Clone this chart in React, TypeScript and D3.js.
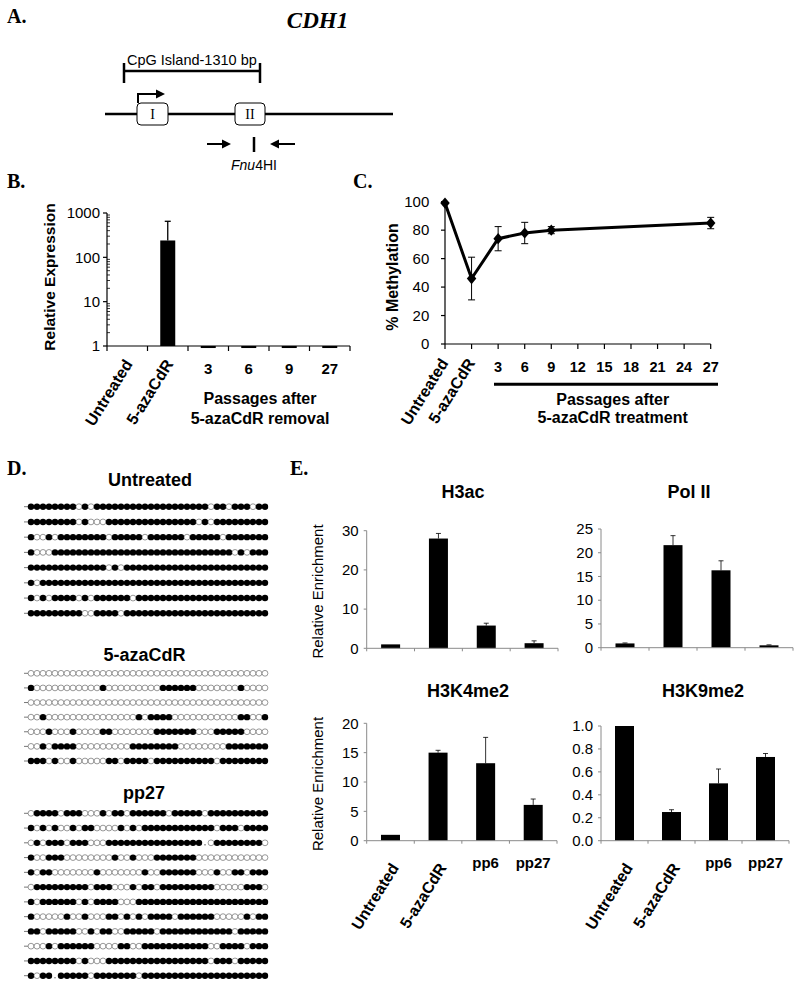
import * as d3 from "d3";

// ---- panel B: relative expression (log scale) ----
const bCategories = ["Untreated", "5-azaCdR", "3", "6", "9", "27"];
const bValues = [1, 240, 0.9, 0.9, 0.9, 0.9];
const bErrorTop = [0, 650, 0, 0, 0, 0];
const bTicks = [1, 10, 100, 1000];

// ---- panel C: % methylation ----
const cCategories = ["Untreated", "5-azaCdR", "3", "6", "9", "12", "15", "18", "21", "24", "27"];
const cPointCats = ["Untreated", "5-azaCdR", "3", "6", "9", "27"];
const cValues = [99, 46, 74, 78, 80, 85];
const cErrors = [0, 15, 8.5, 7.5, 2.5, 4];
const cTicks = [0, 20, 40, 60, 80, 100];

// ---- panel E: ChIP enrichment ----
const eCategories = ["Untreated", "5-azaCdR", "pp6", "pp27"];
const h3acValues = [1, 28, 5.8, 1.3];
const h3acErrors = [0, 1.3, 0.6, 0.6];
const h3acTicks = [0, 10, 20, 30];
const pol2Values = [0.9, 21.6, 16.3, 0.5];
const pol2Errors = [0.1, 2, 2, 0.1];
const pol2Ticks = [0, 5, 10, 15, 20, 25];
const h3k4Values = [1, 15, 13.2, 6.1];
const h3k4Errors = [0, 0.4, 4.4, 1.0];
const h3k4Ticks = [0, 5, 10, 15, 20];
const h3k9Values = [1.0, 0.25, 0.5, 0.73];
const h3k9Errors = [0, 0.02, 0.125, 0.03];
const h3k9Ticks = [0, 0.2, 0.4, 0.6, 0.8, 1.0];

// ---- panel D: bisulfite sequencing, 1 = methylated, 0 = unmethylated, - = no data ----
const untreatedRows = [
  "11111111 0 1 0 1111111111111111111 0 11 0 111 0 11",
  "11111111 0 1 000 111111111111111 0 1 0 111111111",
  "1 00 1 0 11111111 0 11111 0 111111 0 11111 0 1111111",
  "1 000 111111111111111111111111111111 0 1 0 111",
  "1111111111111 0 1 0 111111111111111111111111",
  "1 0 11111111111111111111111111111111111111",
  "1 0 1 0 1111 0 1 0 111111 0 1111111111111111111111",
  "111111111 00 1111 0 111111111111111111111111",
];
const azaRows = [
  "0000000000000000000000000000000000000000",
  "1 00000000000 1 000000000 111111 0000000 1 0000",
  "0000000000000000000000000000000000000000",
  "00 1 000000000000000 1 0 1111 00000000000 11 00 1",
  "000 1 000 1 0000 11 0000000 1111111 000 11111 0000",
  "00 1 0 1111 000000000 11111111 00000000 1111111",
  "111 0 1 00 1 00000 11 0 1111 0 1111111111 0 11111111",
];
const pp27Rows = [
  "0 1111 0 111 000 1 0 11 0 111111 0 11111 0 1111111111",
  "1 0 1 0 1 00 1 0 11 0000 1 0 1 0 111111111111 0 111 0 1111",
  "0 1 0 111 0 111 000 1111111111111111 - 0 11111111 0",
  "1 00 111 00000000 1 00 1 000 1111111 000000000000",
  "1 0 11 0000000 1 0000000 1 00 111111 000 1 00 11 0 111",
  "0 111111111 0 111 000 1 0 11 0 111111111 00000 111 0",
  "1 0 111111 0 1 0 1111 000 1111111111111111111111",
  "1 00000 1 00 1 000 11 0 1 0 1 0 1111 0 111111 00000 1 0 11",
  "11 0 11111 00 1 0 11 00 11111 0 111111111111 0 11111",
  "000 1 0 111111 0000 11 00 11111111111 00 1111 0 111",
  "11111111 0 1 000 11111111111111111 0 111 0 11111",
  "1 0 11 - 11111 0 1111111 0 111111111111111111111",
];

const SANS = "Arial, 'Liberation Sans', sans-serif";
const SERIF = "'Times New Roman', 'Liberation Serif', serif";

const PanelLetter = ({ x, y, t }: { x: number; y: number; t: string }) => (
  <text x={x} y={y} fontFamily={SERIF} fontWeight="bold" fontSize={20}>{t}</text>
);

const RotLabel = ({ x, y, t }: { x: number; y: number; t: string }) => (
  <text transform={`translate(${x},${y}) rotate(-58)`} textAnchor="end" fontWeight="bold" fontSize={16}>{t}</text>
);

const PanelA = () => (
  <g>
    <PanelLetter x={7} y={22.5} t="A." />
    <text x={317.5} y={28.3} textAnchor="middle" fontFamily={SERIF} fontWeight="bold" fontStyle="italic" fontSize={23}>CDH1</text>
    <text x={127} y={65} fontSize={14.5}>CpG Island-1310 bp</text>
    <g stroke="#000" strokeWidth={2.5}>
      <line x1={124} x2={260} y1={71} y2={71} />
      <line x1={124} x2={124} y1={63} y2={83} />
      <line x1={260} x2={260} y1={63} y2={83} />
      <line x1={105} x2={393} y1={114} y2={114} />
      <path d="M138,103 V94 H158" fill="none" strokeWidth={2} />
      <line x1={207} x2={224} y1={144} y2={144} strokeWidth={2} />
      <line x1={276} x2={295} y1={144} y2={144} strokeWidth={2} />
      <line x1={254} x2={254} y1={137} y2={152} />
    </g>
    <polygon points="156,89.5 165,94 156,98.5" fill="#000" />
    <polygon points="222,139.5 231,144 222,148.5" fill="#000" />
    <polygon points="279,139.5 270,144 279,148.5" fill="#000" />
    <rect x={137} y={103} width={31} height={22} rx={4} fill="#fff" stroke="#000" strokeWidth={1} />
    <rect x={235} y={103} width={30} height={22} rx={4} fill="#fff" stroke="#000" strokeWidth={1} />
    <text x={152.5} y={118.5} textAnchor="middle" fontFamily={SERIF} fontSize={14}>I</text>
    <text x={250} y={118.5} textAnchor="middle" fontFamily={SERIF} fontSize={14}>II</text>
    <text x={254} y={170} textAnchor="middle" fontSize={14}>
      <tspan fontStyle="italic">Fnu</tspan>4HI
    </text>
  </g>
);

const PanelB = () => {
  const x = d3.scaleBand().domain(bCategories).range([107, 350]);
  const y = d3.scaleLog().domain([1, 1000]).range([346, 213]);
  const bw = 15;
  const minors: number[] = [];
  [1, 10, 100].forEach(d => d3.range(2, 10).forEach(k => minors.push(d * k)));
  return (
    <g>
      <PanelLetter x={7} y={188.3} t="B." />
      {bCategories.map((c, i) => {
        const v = bValues[i];
        const y0 = y(1), y1 = y(v);
        return (
          <rect key={c} x={x(c)! + (x.bandwidth() - bw) / 2} y={Math.min(y0, y1)} width={bw}
            height={Math.abs(y1 - y0)} fill="#000" />
        );
      })}
      {bCategories.map((c, i) => bErrorTop[i] > 0 && (
        <g key={c} stroke="#000" strokeWidth={1.3}>
          <line x1={x(c)! + x.bandwidth() / 2} x2={x(c)! + x.bandwidth() / 2} y1={y(bValues[i])} y2={y(bErrorTop[i])} />
          <line x1={x(c)! + x.bandwidth() / 2 - 3} x2={x(c)! + x.bandwidth() / 2 + 3} y1={y(bErrorTop[i])} y2={y(bErrorTop[i])} />
        </g>
      ))}
      <g stroke="#000" strokeWidth={1.2}>
        <line x1={107} x2={107} y1={213} y2={346} />
        <line x1={107} x2={350} y1={346} y2={346} />
        {bTicks.map(t => <line key={t} x1={103} x2={107} y1={y(t)} y2={y(t)} />)}
        {minors.map(t => <line key={t} x1={107} x2={110} y1={y(t)} y2={y(t)} strokeWidth={0.8} />)}
        {[...bCategories.map(c => x(c)!), 350].map((p, i) => <line key={i} x1={p} x2={p} y1={346} y2={351} />)}
      </g>
      {bTicks.map(t => (
        <text key={t} x={100} y={y(t)} dy="0.35em" textAnchor="end" fontSize={15}>{t}</text>
      ))}
      <text transform="translate(55,277) rotate(-90)" textAnchor="middle" fontWeight="bold" fontSize={15.5}>Relative Expression</text>
      <RotLabel x={x("Untreated")! + x.bandwidth() / 2 + 6} y={364} t="Untreated" />
      <RotLabel x={x("5-azaCdR")! + x.bandwidth() / 2 + 6} y={364} t="5-azaCdR" />
      {bCategories.slice(2).map(c => (
        <text key={c} x={x(c)! + x.bandwidth() / 2} y={374} textAnchor="middle" fontWeight="bold" fontSize={15}>{c}</text>
      ))}
      <text x={260} y={404} textAnchor="middle" fontWeight="bold" fontSize={16}>Passages after</text>
      <text x={260} y={424} textAnchor="middle" fontWeight="bold" fontSize={16}>5-azaCdR removal</text>
    </g>
  );
};

const PanelC = () => {
  const x = d3.scalePoint().domain(cCategories).range([445, 710.7]);
  const y = d3.scaleLinear().domain([0, 100]).range([344, 201.7]);
  const pts = cPointCats.map((c, i) => ({ c, v: cValues[i], e: cErrors[i] }));
  const line = d3.line<{ c: string; v: number }>().x(d => x(d.c)!).y(d => y(d.v));
  const diamond = d3.symbol().type((d3 as any).symbolDiamond2 ?? d3.symbolDiamond).size(80)();
  return (
    <g>
      <PanelLetter x={353} y={188} t="C." />
      <g stroke="#000" strokeWidth={1.2}>
        <line x1={445} x2={445} y1={201.7} y2={344} />
        <line x1={445} x2={710.7} y1={344} y2={344} />
        {cTicks.map(t => <line key={t} x1={441} x2={445} y1={y(t)} y2={y(t)} />)}
        {cCategories.map(c => <line key={c} x1={x(c)} x2={x(c)} y1={344} y2={349} />)}
      </g>
      {cTicks.map(t => (
        <text key={t} x={429.3} y={y(t)} dy="0.35em" textAnchor="end" fontSize={15}>{t}</text>
      ))}
      {pts.filter(p => p.e > 0).map(p => (
        <g key={p.c} stroke="#000" strokeWidth={1}>
          <line x1={x(p.c)} x2={x(p.c)} y1={y(p.v - p.e)} y2={y(p.v + p.e)} />
          <line x1={x(p.c)! - 3.5} x2={x(p.c)! + 3.5} y1={y(p.v - p.e)} y2={y(p.v - p.e)} />
          <line x1={x(p.c)! - 3.5} x2={x(p.c)! + 3.5} y1={y(p.v + p.e)} y2={y(p.v + p.e)} />
        </g>
      ))}
      <path d={line(pts)!} fill="none" stroke="#000" strokeWidth={3} />
      {pts.map(p => (
        <path key={p.c} d={diamond!} transform={`translate(${x(p.c)},${y(p.v)}) scale(0.85,1)`} fill="#000" />
      ))}
      <text transform="translate(398,277) rotate(-90)" textAnchor="middle" fontWeight="bold" fontSize={16}>% Methylation</text>
      <RotLabel x={x("Untreated")! + 4} y={363} t="Untreated" />
      <RotLabel x={x("5-azaCdR")! + 4} y={363} t="5-azaCdR" />
      {cCategories.slice(2).map(c => (
        <text key={c} x={x(c)} y={372.3} textAnchor="middle" fontWeight="bold" fontSize={14.5}>{c}</text>
      ))}
      <line x1={494} x2={718} y1={384.3} y2={384.3} stroke="#000" strokeWidth={3} />
      <text x={612.7} y={405} textAnchor="middle" fontWeight="bold" fontSize={16}>Passages after</text>
      <text x={612.7} y={423} textAnchor="middle" fontWeight="bold" fontSize={16}>5-azaCdR treatment</text>
    </g>
  );
};

const MethBlock = ({ title, titleX, titleY, rows, yTop, yBottom }:
  { title: string; titleX: number; titleY: number; rows: string[]; yTop: number; yBottom: number }) => {
  const cells = rows.map(r => r.replace(/ /g, ""));
  const x = d3.scaleBand<number>().domain(d3.range(40)).range([28, 268]);
  const y = d3.scalePoint<number>().domain(d3.range(cells.length)).range([yTop, yBottom]);
  return (
    <g>
      <text x={titleX} y={titleY} textAnchor="middle" fontWeight="bold" fontSize={18}>{title}</text>
      {cells.map((r, ri) => (
        <g key={ri}>
          <line x1={24} x2={28} y1={y(ri)} y2={y(ri)} stroke="#555" strokeWidth={0.8} />
          {r.split("").map((ch, ci) => {
            const cx = x(ci)! + x.bandwidth() / 2;
            if (ch === "-") return <circle key={ci} cx={cx} cy={y(ri)! + 2} r={0.8} fill="#777" />;
            return ch === "1"
              ? <circle key={ci} cx={cx} cy={y(ri)} r={3.2} fill="#000" />
              : <circle key={ci} cx={cx} cy={y(ri)} r={2.9} fill="#fff" stroke="#555" strokeWidth={0.6} />;
          })}
        </g>
      ))}
    </g>
  );
};

const EPanel = ({ title, titleX, titleY, values, errors, ticks, x0, x1, yZero, yMax, fmt, yLabel, xLabels }:
  { title: string; titleX: number; titleY: number; values: number[]; errors: number[]; ticks: number[];
    x0: number; x1: number; yZero: number; yMax: number; fmt: (v: number) => string; yLabel: boolean; xLabels: boolean }) => {
  const x = d3.scaleBand().domain(eCategories).range([x0, x1]);
  const y = d3.scaleLinear().domain([0, ticks[ticks.length - 1]]).range([yZero, yMax]);
  const bw = 19;
  const cx = (c: string) => x(c)! + x.bandwidth() / 2;
  return (
    <g>
      <text x={titleX} y={titleY} textAnchor="middle" fontWeight="bold" fontSize={18}>{title}</text>
      {eCategories.map((c, i) => (
        <rect key={c} x={cx(c) - bw / 2} y={y(values[i])} width={bw} height={yZero - y(values[i])} fill="#000" />
      ))}
      {eCategories.map((c, i) => errors[i] > 0 && (
        <g key={c} stroke="#000" strokeWidth={0.8}>
          <line x1={cx(c)} x2={cx(c)} y1={y(values[i])} y2={y(values[i] + errors[i])} />
          <line x1={cx(c) - 2.5} x2={cx(c) + 2.5} y1={y(values[i] + errors[i])} y2={y(values[i] + errors[i])} />
        </g>
      ))}
      <g stroke="#8a8a8a" strokeWidth={1}>
        <line x1={x0} x2={x0} y1={yMax} y2={yZero} />
        <line x1={x0} x2={x1} y1={yZero} y2={yZero} />
        {ticks.map(t => <line key={t} x1={x0 - 3} x2={x0} y1={y(t)} y2={y(t)} />)}
        {[...eCategories.map(c => x(c)!), x1].map((p, i) => <line key={i} x1={p} x2={p} y1={yZero} y2={yZero + 3} />)}
      </g>
      {ticks.map(t => (
        <text key={t} x={x0 - 8} y={y(t)} dy="0.35em" textAnchor="end" fontSize={15}>{fmt(t)}</text>
      ))}
      {yLabel && (
        <text transform={`translate(323,${(yZero + yMax) / 2 + 2}) rotate(-90)`} textAnchor="middle" fontSize={15}>Relative Enrichment</text>
      )}
      {xLabels && (
        <g>
          <RotLabel x={cx("Untreated") + 9} y={yZero + 27} t="Untreated" />
          <RotLabel x={cx("5-azaCdR") + 9} y={yZero + 27} t="5-azaCdR" />
          <text x={cx("pp6")} y={yZero + 27.5} textAnchor="middle" fontWeight="bold" fontSize={15}>pp6</text>
          <text x={cx("pp27")} y={yZero + 27.5} textAnchor="middle" fontWeight="bold" fontSize={15}>pp27</text>
        </g>
      )}
    </g>
  );
};

export default function App() {
  const intFmt = d3.format("d");
  const decFmt = d3.format(".1f");
  return (
    <svg width={800} height={989} style={{ position: "absolute", left: 0, top: 0, background: "#fff" }}
      fontFamily={SANS}>
      <rect width={800} height={989} fill="#fff" />
      <PanelA />
      <PanelB />
      <PanelC />
      <PanelLetter x={7} y={475} t="D." />
      <MethBlock title="Untreated" titleX={150} titleY={486} rows={untreatedRows} yTop={506.7} yBottom={613.3} />
      <MethBlock title="5-azaCdR" titleX={144.5} titleY={660.7} rows={azaRows} yTop={673.3} yBottom={761} />
      <MethBlock title="pp27" titleX={144} titleY={799.3} rows={pp27Rows} yTop={813.3} yBottom={975.7} />
      <PanelLetter x={290} y={475} t="E." />
      <EPanel title="H3ac" titleX={463} titleY={498.3} values={h3acValues} errors={h3acErrors} ticks={h3acTicks}
        x0={366.7} x1={558} yZero={648.3} yMax={530.7} fmt={intFmt} yLabel={true} xLabels={false} />
      <EPanel title="Pol II" titleX={689} titleY={498.3} values={pol2Values} errors={pol2Errors} ticks={pol2Ticks}
        x0={601} x1={793} yZero={647.7} yMax={529} fmt={intFmt} yLabel={false} xLabels={false} />
      <EPanel title="H3K4me2" titleX={468} titleY={697.3} values={h3k4Values} errors={h3k4Errors} ticks={h3k4Ticks}
        x0={366.7} x1={557} yZero={840.7} yMax={723.3} fmt={intFmt} yLabel={true} xLabels={true} />
      <EPanel title="H3K9me2" titleX={703} titleY={697.3} values={h3k9Values} errors={h3k9Errors} ticks={h3k9Ticks}
        x0={601} x1={789} yZero={840.7} yMax={726} fmt={decFmt} yLabel={false} xLabels={true} />
    </svg>
  );
}
